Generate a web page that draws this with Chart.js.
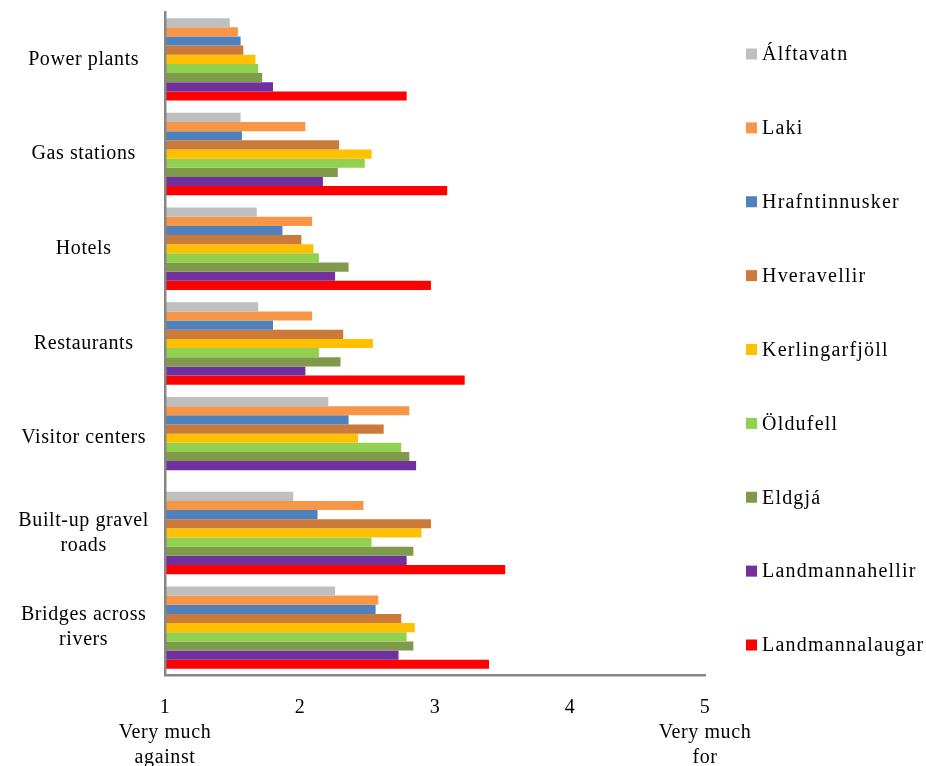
<!DOCTYPE html>
<html>
<head>
<meta charset="utf-8">
<script src="https://cdn.jsdelivr.net/npm/chart.js@4.4.1/dist/chart.umd.min.js"></script>
<style>
  html, body { margin: 0; padding: 0; background: #fff; }
  #wrap { width: 926px; height: 766px; position: relative; }
</style>
</head>
<body>
<div id="wrap"><canvas id="chart"></canvas></div>
<script>
// categories, top to bottom
const categories = ['Power plants', 'Gas stations', 'Hotels', 'Restaurants', 'Visitor centers',
    ['Built-up gravel', 'roads'], ['Bridges across', 'rivers']];

const seriesNames = ['Álftavatn', 'Laki', 'Hrafntinnusker', 'Hveravellir', 'Kerlingarfjöll',
    'Öldufell', 'Eldgjá', 'Landmannahellir', 'Landmannalaugar'];
const seriesColors = ['#BFBFBF', '#F79646', '#4F81BD', '#CC7A3A', '#FFC000',
    '#92D050', '#7F9A4A', '#7030A0', '#FF0000'];

// mean answers per site (1 = very much against, 5 = very much for)
const alftavatn       = [1.48, 1.56, 1.68, 1.69, 2.21, 1.95, 2.26];
const laki            = [1.54, 2.04, 2.09, 2.09, 2.81, 2.47, 2.58];
const hrafntinnusker  = [1.56, 1.57, 1.87, 1.80, 2.36, 2.13, 2.56];
const hveravellir     = [1.58, 2.29, 2.01, 2.32, 2.62, 2.97, 2.75];
const kerlingarfjoll  = [1.67, 2.53, 2.10, 2.54, 2.43, 2.90, 2.85];
const oldufell        = [1.69, 2.48, 2.14, 2.14, 2.75, 2.53, 2.79];
const eldgja          = [1.72, 2.28, 2.36, 2.30, 2.81, 2.84, 2.84];
const landmannahellir = [1.80, 2.17, 2.26, 2.04, 2.86, 2.79, 2.73];
const landmannalaugar = [2.79, 3.09, 2.97, 3.22, null, 3.52, 3.40];

const tickValues = [1, 2, 3, 4, 5];
const tickLabels = [['1', 'Very much', 'against'], ['2'], ['3'], ['4'], ['5', 'Very much', 'for']];

const allSeries = [alftavatn, laki, hrafntinnusker, hveravellir, kerlingarfjoll,
    oldufell, eldgja, landmannahellir, landmannalaugar];

const FONT = 'Liberation Serif, Times New Roman, serif';

// small legend on the right, one entry per series
const sideLegend = {
    id: 'sideLegend',
    beforeLayout(chart) { chart.ctx.letterSpacing = '0.6px'; },
    beforeDraw(chart) { chart.ctx.letterSpacing = '0.6px'; },
    afterDraw(chart) {
        const ctx = chart.ctx;
        const area = chart.chartArea;
        const start = area.top + 42;
        const step = (area.bottom - 30 - start) / (chart.data.datasets.length - 1);
        ctx.save();
        ctx.letterSpacing = '1.2px';
        ctx.font = '20px ' + FONT;
        ctx.textBaseline = 'middle';
        ctx.textAlign = 'left';
        chart.data.datasets.forEach((ds, i) => {
            const y = start + i * step;
            ctx.fillStyle = ds.backgroundColor;
            ctx.fillRect(area.right + 41, y - 5.5, 11, 11);
            ctx.fillStyle = '#000';
            ctx.fillText(ds.label, area.right + 57, y + 1);
        });
        ctx.restore();
    }
};

const ctx = document.getElementById('chart').getContext('2d');
new Chart(ctx, {
    type: 'bar',
    data: {
        labels: categories,
        datasets: allSeries.map((values, i) => ({
            label: seriesNames[i],
            data: values,
            backgroundColor: seriesColors[i],
            borderWidth: 0,
            base: 1,
            categoryPercentage: 0.87,
            barPercentage: 1.0,
        }))
    },
    options: {
        indexAxis: 'y',
        responsive: true,
        maintainAspectRatio: false,
        animation: false,
        layout: {
            padding: { top: 12, right: 221, left: 0, bottom: 0 }
        },
        scales: {
            x: {
                min: 1,
                max: 5,
                afterBuildTicks: (scale) => {
                    scale.ticks = tickValues.map(v => ({ value: v }));
                },
                afterFit: (scale) => {
                    scale.height = 91;
                    scale.paddingLeft = 0;
                    scale.paddingRight = 0;
                },
                ticks: {
                    padding: 12,
                    color: '#000',
                    maxRotation: 0,
                    font: { family: FONT, size: 20, lineHeight: 1.25 },
                    callback: function(value) {
                        const idx = tickValues.indexOf(value);
                        return idx >= 0 ? tickLabels[idx] : '';
                    }
                },
                grid: { display: false },
                border: { display: true, color: '#868686', width: 2.5, z: 1 }
            },
            y: {
                afterFit: (scale) => {
                    scale.width = 165;
                    scale.paddingTop = 0;
                    scale.paddingBottom = 0;
                },
                ticks: {
                    padding: 8,
                    color: '#000',
                    crossAlign: 'center',
                    font: { family: FONT, size: 20, lineHeight: 1.25 }
                },
                grid: { display: false },
                border: { display: true, color: '#868686', width: 2.5, z: 1 }
            }
        },
        plugins: {
            legend: { display: false },
            tooltip: { enabled: false }
        }
    },
    plugins: [sideLegend]
});
</script>
</body>
</html>
